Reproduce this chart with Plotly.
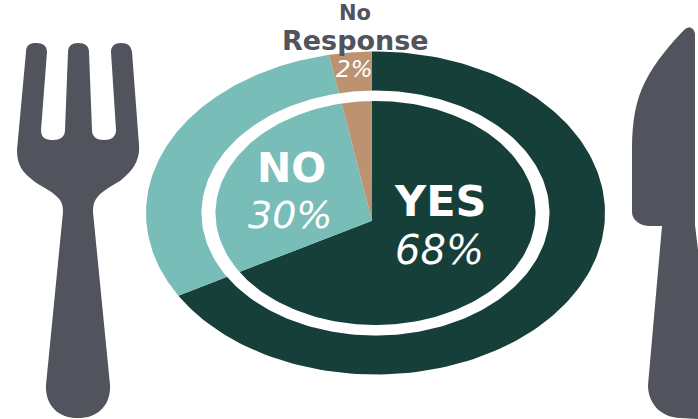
import numpy as np
import plotly.graph_objects as go

categories = ["YES", "NO", "No Response"]
value_labels = ["68%", "30%", "2%"]
slice_shares = [66.7, 30.3, 3.0]  # slice sizes as drawn in the picture
slice_colors = ["#173f39", "#79bdb8", "#bc9270"]
TEXT_GRAY = "#51535d"

CX, CY, RX, RY = 375.5, 213.0, 229.5, 161.5
APEX = (372.0, 220.7)
START_DEG = -0.9
RING_OUT = (174.0, 122.5)
RING_IN = (160.0, 112.0)


def arc(rx, ry, a0, a1, n=160):
    t = np.radians(np.linspace(a0, a1, n))
    return CX + rx * np.sin(t), CY - ry * np.cos(t)


fig = go.Figure()
angle = START_DEG
for name, share, col in zip(categories, slice_shares, slice_colors):
    sweep = share / 100 * 360
    ax, ay = arc(RX, RY, angle, angle + sweep)
    fig.add_trace(go.Scatter(
        x=np.r_[APEX[0], ax, APEX[0]], y=np.r_[APEX[1], ay, APEX[1]],
        mode="lines", fill="toself", fillcolor=col, line=dict(width=0, color=col),
        name=name, hoverinfo="name", showlegend=False))
    angle += sweep

ox, oy = arc(*RING_OUT, 0, 360, 240)
ix, iy = arc(*RING_IN, 360, 0, 240)
fig.add_trace(go.Scatter(
    x=np.r_[ox, ix, ox[0]], y=np.r_[oy, iy, oy[0]],
    mode="lines", fill="toself", fillcolor="white", line=dict(width=0, color="white"),
    hoverinfo="skip", showlegend=False))

FORK = ("M26,52 C26,45 30,43 36,43 C43,43 47,46 47,52 L41,130 C41,138 46,140 53,140 "
        "C60,140 65,137 65,130 L68,52 C68,46 72,43 78,43 C85,43 89,46 89,52 L92,130 "
        "C92,137 97,140 104,140 C111,140 116,137 116,130 L111,52 C111,46 115,43 121,43 "
        "C128,43 131,46 132,52 L139,145 C140,160 134,170 120,181 C108,188 98,193 94,203 "
        "C93,207 93,209 93,212 L110,385 C111,405 98,418 78,418 C58,418 45,405 46,385 "
        "L63,212 C63,208 63,205 60,200 C54,192 44,188 35,182 C22,172 17,165 17,150 Z")
KNIFE = ("M685,29 C689,26 694,27 695,34 L695,225 L698,250 L698,419 L680,418 "
         "C660,417 648,403 648,385 L662,226 L650,226 C640,226 632,220 632,212 L632,150 "
         "C632,120 636,100 645,82 C655,62 672,42 685,29 Z")

shapes = [dict(type="path", path=p, xref="x", yref="y", fillcolor=TEXT_GRAY,
               line=dict(width=0), layer="below") for p in (FORK, KNIFE)]


def label(text, x, y, size, color, bold=False, italic=False):
    fig.add_annotation(x=x, y=y, xref="x", yref="y", text=text, showarrow=False,
                       xanchor="center", yanchor="middle",
                       font=dict(family="DejaVu Sans", size=size, color=color,
                                 weight="bold" if bold else "normal",
                                 style="italic" if italic else "normal"))


label("No", 355, 13, 21, TEXT_GRAY, bold=True)
label("Response", 355, 40.5, 27, TEXT_GRAY, bold=True)
label(value_labels[2], 354, 69, 23, "white", italic=True)
label(categories[1], 291, 168, 41, "white", bold=True)
label(value_labels[1], 290, 215, 38, "white", italic=True)
label(categories[0], 440, 201, 43, "white", bold=True)
label(value_labels[0], 439, 250, 40, "white", italic=True)

fig.update_layout(
    width=698, height=419, margin=dict(l=0, r=0, t=0, b=0),
    paper_bgcolor="white", plot_bgcolor="white", showlegend=False, shapes=shapes,
    xaxis=dict(range=[0, 698], visible=False, fixedrange=True),
    yaxis=dict(range=[419, 0], visible=False, fixedrange=True),
)
fig.write_html("out.html", config={"displayModeBar": False},
               post_script="document.body.style.margin='0';document.body.style.overflow='hidden';")
